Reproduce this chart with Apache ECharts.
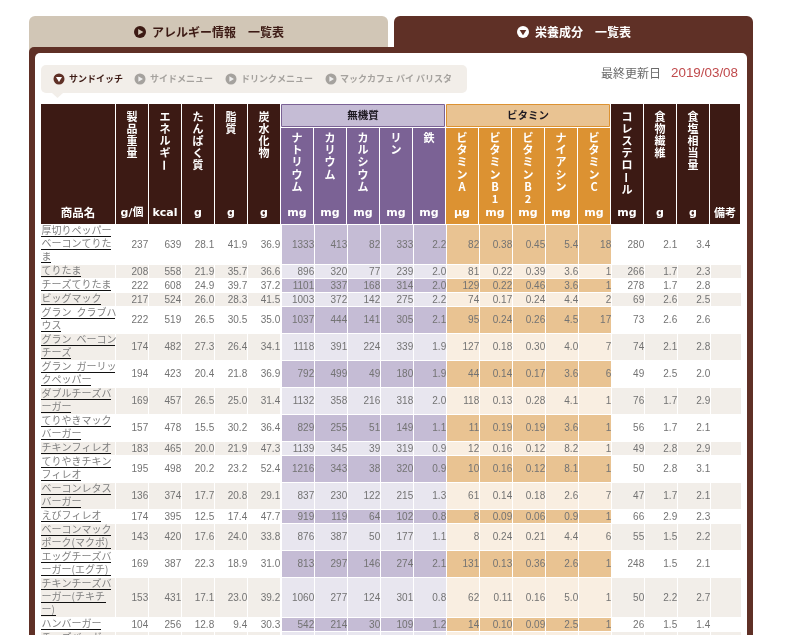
<!DOCTYPE html>
<html><head><meta charset="utf-8">
<style>html,body{margin:0;padding:0;background:#fff;overflow:hidden}#c{width:787px;height:635px}</style>
<script src="https://cdn.jsdelivr.net/npm/echarts@6/dist/echarts.min.js"></script>
</head><body><div id="c"></div>
<script>
// ---------- data ----------
const nameLines = [
 ['厚切りペッパー','ベーコンてりた','ま'],['てりたま'],['チーズてりたま'],['ビッグマック'],
 ['グラン クラブハ','ウス'],['グラン ベーコン','チーズ'],['グラン ガーリッ','クペッパー'],
 ['ダブルチーズバ','ーガー'],['てりやきマック','バーガー'],['チキンフィレオ'],
 ['てりやきチキン','フィレオ'],['ベーコンレタス','バーガー'],['えびフィレオ'],
 ['ベーコンマック','ポーク(マクポ)'],['エッグチーズバ','ーガー(エグチ)'],
 ['チキンチーズバ','ーガー(チキチ','ー)'],['ハンバーガー'],['チーズバーガー']
];
const weight =   [237,208,222,217,222,174,194,169,157,183,195,136,174,143,169,153,104,null];
const energy =   [639,558,608,524,519,482,423,457,478,465,498,374,395,420,387,431,256,null];
const protein =  [28.1,21.9,24.9,26.0,26.5,27.3,20.4,26.5,15.5,20.0,20.2,17.7,12.5,17.6,22.3,17.1,12.8,null];
const fat =      [41.9,35.7,39.7,28.3,30.5,26.4,21.8,25.0,30.2,21.9,23.2,20.8,17.4,24.0,18.9,23.0,9.4,null];
const carbs =    [36.9,36.6,37.2,41.5,35.0,34.1,36.9,31.4,36.4,47.3,52.4,29.1,47.7,33.8,31.0,39.2,30.3,null];
const sodium =   [1333,896,1101,1003,1037,1118,792,1132,829,1139,1216,837,919,876,813,1060,542,null];
const potassium =[413,320,337,372,444,391,499,358,255,345,343,230,119,387,297,277,214,null];
const calcium =  [82,77,168,142,141,224,49,216,51,39,38,122,64,50,146,124,30,null];
const phosphorus=[333,239,314,275,305,339,180,318,149,319,320,215,102,177,274,301,109,null];
const iron =     [2.2,2.0,2.0,2.2,2.1,1.9,1.9,2.0,1.1,0.9,0.9,1.3,0.8,1.1,2.1,0.8,1.2,null];
const vitA =     [82,81,129,74,95,127,44,118,11,12,10,61,8,8,131,62,14,null];
const vitB1 =    [0.38,0.22,0.22,0.17,0.24,0.18,0.14,0.13,0.19,0.16,0.16,0.14,0.09,0.24,0.13,0.11,0.10,null];
const vitB2 =    [0.45,0.39,0.46,0.24,0.26,0.30,0.17,0.28,0.19,0.12,0.12,0.18,0.06,0.21,0.36,0.16,0.09,null];
const niacin =   [5.4,3.6,3.6,4.4,4.5,4.0,3.6,4.1,3.6,8.2,8.1,2.6,0.9,4.4,2.6,5.0,2.5,null];
const vitC =     [18,1,1,2,17,7,6,1,1,1,1,7,1,6,1,1,1,null];
const cholesterol=[280,266,278,69,73,74,49,76,56,49,50,47,66,55,248,50,26,null];
const fiber =    [2.1,1.7,1.7,2.6,2.6,2.1,2.5,1.7,1.7,2.8,2.8,1.7,2.9,1.5,1.5,2.2,1.5,null];
const salt =     [3.4,2.3,2.8,2.5,2.6,2.8,2.0,2.9,2.1,2.9,3.1,2.1,2.3,2.2,2.1,2.7,1.4,null];
const notes =    new Array(18).fill(null);

const columns = [weight,energy,protein,fat,carbs,sodium,potassium,calcium,phosphorus,iron,vitA,vitB1,vitB2,niacin,vitC,cholesterol,fiber,salt,notes];
const decimals = [0,0,1,1,1,0,0,0,0,1,0,2,2,1,0,0,1,1,0];
const headerLabels = ['製品重量','エネルギー','たんぱく質','脂質','炭水化物','ナトリウム','カリウム','カルシウム','リン','鉄','ビタミンA','ビタミンB1','ビタミンB2','ナイアシン','ビタミンC','コレステロール','食物繊維','食塩相当量',''];
const unitLabels = ['g/個','kcal','g','g','g','mg','mg','mg','mg','mg','µg','mg','mg','mg','mg','mg','g','g','備考'];
const groupLabels = ['無機質','ビタミン'];

// ---------- palette + layout constants ----------
const DARK='#3c1a14', FRAME='#5f3026', PURPLE='#7b6295', PURPLE_L='#c5bcd5', PURPLE_XL='#e8e6ef',
      ORANGE='#dc9232', ORANGE_L='#e9c392', ORANGE_XL='#f9eee1', CREAM='#f2eee9', TXT='#737373';
const JP='"Noto Sans CJK JP","Noto Sans",sans-serif';
const PITCH=33, GAP=1/PITCH, HEAD=-121, SUB=-97;
const NAME_UNITS=75/PITCH;
const family = k => k<5||k>14 ? 'dark' : k<10 ? 'purple' : 'orange';

// row tops derive from how many lines each product name takes
const rowTops=[]; let acc=0;
nameLines.forEach(l=>{rowTops.push(acc); acc+=l.length*13+1;});
const rowH = r => nameLines[r].length*13;
const charW = s => [...s].reduce((a,c)=>a+(c===' '?4:(c.charCodeAt(0)<128?5:10)),0);

function bodyFill(k,r){
  const odd=r%2===1, f=family(k);
  if(f==='purple') return odd?PURPLE_XL:PURPLE_L;
  if(f==='orange') return odd?ORANGE_XL:ORANGE_L;
  return odd?CREAM:'#fff';
}

const bodyData=[]; columns.forEach((col,k)=>col.forEach((v,r)=>bodyData.push([k,rowTops[r],r])));
const nameData=nameLines.map((l,r)=>[-NAME_UNITS,rowTops[r],r]);
const headData=columns.map((c,k)=>[k,HEAD,k]);

function renderBody(p,api){
  const k=api.value(0), top=api.value(1), r=api.value(2);
  const off=k>=5?GAP:0, right=k===18?k+off+30/PITCH:k+off+32/PITCH;
  const a=api.coord([k+off,top]), b=api.coord([right,top+rowH(r)]);
  const kids=[{type:'rect',shape:{x:a[0],y:a[1],width:b[0]-a[0],height:b[1]-a[1]},style:{fill:bodyFill(k,r)}}];
  const v=columns[k][r];
  if(v!==null) kids.push({type:'text',style:{text:v.toFixed(decimals[k]),x:b[0]+0.2,y:(a[1]+b[1])/2+0.5,
     fill:TXT,font:'10px "Liberation Sans",sans-serif',align:'right',verticalAlign:'middle'}});
  return {type:'group',children:kids};
}
function renderName(p,api){
  const x0=api.value(0), top=api.value(1), r=api.value(2);
  const a=api.coord([x0,top]), b=api.coord([x0+74/PITCH,top+rowH(r)]);
  const kids=[{type:'rect',shape:{x:a[0],y:a[1],width:b[0]-a[0],height:b[1]-a[1]},style:{fill:r%2?CREAM:'#fff'}}];
  nameLines[r].forEach((s,i)=>{
    kids.push({type:'text',style:{text:s.replace(/ /g,'\u2002'),x:a[0]+0.5,y:a[1]+5.5+13*i,fill:'#808080',font:'10px '+JP,align:'left',verticalAlign:'middle'}});
    kids.push({type:'rect',shape:{x:a[0],y:a[1]+11+13*i,width:charW(s),height:1},style:{fill:'#111'}});
  });
  return {type:'group',children:kids};
}
function renderHead(p,api){
  const k=api.value(0), f=family(k);
  const top=f==='dark'?HEAD:SUB;
  const a=api.coord([k,top]), b=api.coord([k+(k===18?30:32)/PITCH,-1]);
  const fill=f==='dark'?DARK:f==='purple'?PURPLE:ORANGE;
  const kids=[{type:'rect',shape:{x:a[0],y:a[1],width:b[0]-a[0],height:b[1]-a[1]},style:{fill}}];
  const cx=(a[0]+b[0])/2;
  const startY=f==='dark'?a[1]+12.7:a[1]+10;
  [...headerLabels[k]].forEach((ch,i)=>{
    const y=startY+i*12.15;
    const t={type:'text',style:{text:ch,x:0,y:0,fill:'#fff',font:'bold 11px '+JP,align:'center',verticalAlign:'middle'},x:cx,y:y};
    if(ch==='ー') t.rotation=Math.PI/2;
    kids.push(t);
  });
  const ascii=k!==18;
  kids.push({type:'text',style:{text:unitLabels[k],x:cx,y:b[1]-11,fill:'#fff',
    font:ascii?'bold 11px "DejaVu Sans",'+JP:'bold 11px '+JP,align:'center',verticalAlign:'middle'}});
  return {type:'group',children:kids};
}
function renderNameHead(p,api){
  const a=api.coord([-NAME_UNITS,HEAD]), b=api.coord([-NAME_UNITS+74/PITCH,-1]);
  return {type:'group',children:[
    {type:'rect',shape:{x:a[0],y:a[1],width:b[0]-a[0],height:b[1]-a[1]},style:{fill:DARK}},
    {type:'text',style:{text:'商品名',x:(a[0]+b[0])/2,y:b[1]-11,fill:'#fff',font:'bold 11.5px '+JP,align:'center',verticalAlign:'middle'}}
  ]};
}
function renderGroup(p,api){
  const k=api.value(0), i=api.value(1);
  const a=api.coord([k,HEAD]), b=api.coord([k+4+32/PITCH,SUB-1]);
  const c=i===0?{s:PURPLE,f:PURPLE_L}:{s:ORANGE,f:ORANGE_L};
  return {type:'group',children:[
    {type:'rect',shape:{x:a[0]+0.5,y:a[1]+0.5,width:b[0]-a[0]-1,height:b[1]-a[1]-1},style:{fill:c.f,stroke:c.s,lineWidth:1}},
    {type:'text',style:{text:groupLabels[i],x:(a[0]+b[0])/2,y:(a[1]+b[1])/2,fill:'#1e1a22',font:'bold 10.5px '+JP,align:'center',verticalAlign:'middle'}}
  ]};
}

// ---------- page furniture ----------
const icon=(cx,cy,r,fill,down,tri)=>[
  {type:'circle',shape:{cx,cy,r},style:{fill},z:1},
  {type:'polygon',shape:{points:down?[[cx-r*.55,cy-r*.35],[cx+r*.55,cy-r*.35],[cx,cy+r*.55]]:[[cx-r*.3,cy-r*.5],[cx+r*.55,cy],[cx-r*.3,cy+r*.5]]},style:{fill:tri},z:2}
];
const label=(x,y,text,fill,font,align)=>({type:'text',x,y,z:2,style:{text,fill,font,align:align||'left',verticalAlign:'middle'}});
const furniture=[
  {type:'rect',shape:{x:29,y:16,width:359,height:40,r:[6,6,0,0]},style:{fill:'#d1c6b6'},z:0},
  {type:'rect',shape:{x:394,y:16,width:359,height:40,r:[6,6,0,0]},style:{fill:FRAME},z:0},
  {type:'rect',shape:{x:29,y:47,width:724,height:600,r:[5,5,0,0]},style:{fill:FRAME},z:0},
  {type:'rect',shape:{x:35,y:53,width:712,height:600,r:[5,5,0,0]},style:{fill:'#fff'},z:1},
  ...icon(140,32,6,DARK,false,'#d1c6b6'),
  label(152,32,'アレルギー情報　一覧表',DARK,'bold 12px '+JP),
  ...icon(523,32,6,'#fff',true,FRAME),
  label(535,32,'栄養成分　一覧表','#fff','bold 12px '+JP),
  {type:'rect',shape:{x:41,y:65,width:426,height:28,r:5},style:{fill:CREAM},z:1},
  {type:'polygon',shape:{points:[[52,93],[63,93],[57.5,98]]},style:{fill:CREAM},z:1},
  ...icon(59,79,5.5,FRAME,true,'#fff'),
  label(69,79,'サンドイッチ',DARK,'bold 9px '+JP),
  ...icon(140,79,5.5,'#a5a29e',false,'#eee'),
  label(150,79,'サイドメニュー','#a5a29e','bold 9px '+JP),
  ...icon(231,79,5.5,'#a5a29e',false,'#eee'),
  label(241,79,'ドリンクメニュー','#a5a29e','bold 9px '+JP),
  ...icon(331,79,5.5,'#a5a29e',false,'#eee'),
  label(340,79,'マックカフェ バイ バリスタ','#a5a29e','bold 9px '+JP),
  label(601,73,'最終更新日','#6a6a6a','12px '+JP),
  label(671,73,'2019/03/08','#c04a4c','13.4px "Liberation Sans",sans-serif')
];

const chart=echarts.init(document.getElementById('c'),null,{renderer:'canvas',width:787,height:635});
chart.setOption({
  animation:false,
  backgroundColor:'#fff',
  grid:{left:41,top:104,width:702,height:531},
  xAxis:{type:'value',min:-NAME_UNITS,max:19,show:false},
  yAxis:{type:'value',inverse:true,min:HEAD,max:410,show:false},
  tooltip:{show:false},
  graphic:{elements:furniture},
  series:[
    {type:'custom',silent:true,z:5,renderItem:renderBody,data:bodyData,encode:{x:0,y:1}},
    {type:'custom',silent:true,z:5,renderItem:renderName,data:nameData,encode:{x:0,y:1}},
    {type:'custom',silent:true,z:5,renderItem:renderHead,data:headData,encode:{x:0,y:1}},
    {type:'custom',silent:true,z:5,renderItem:renderNameHead,data:[[-NAME_UNITS,HEAD]],encode:{x:0,y:1}},
    {type:'custom',silent:true,z:5,renderItem:renderGroup,data:[[5,0],[10,1]],encode:{x:0}}
  ]
});
</script></body></html>
